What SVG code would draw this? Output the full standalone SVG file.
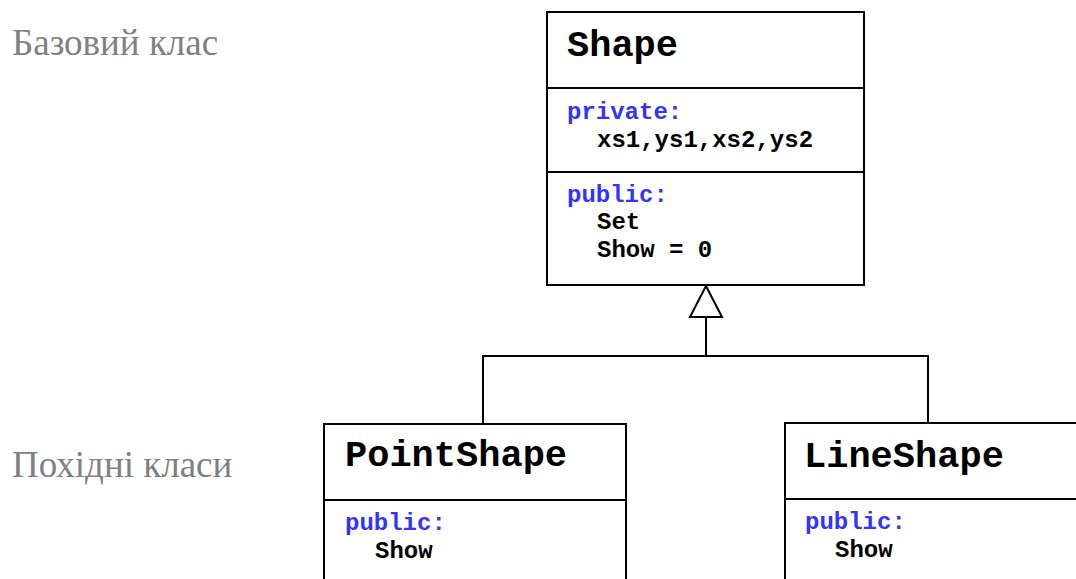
<svg xmlns="http://www.w3.org/2000/svg" width="1076" height="579" viewBox="0 0 1076 579">
  <style>
    .box { fill: #ffffff; stroke: #000000; stroke-width: 2; }
    .div { stroke: #000000; stroke-width: 2; }
    .title { font-family: "Liberation Mono", "Courier New", monospace; font-weight: bold; font-size: 37px; fill: #000000; }
    .kw { font-family: "Liberation Mono", "Courier New", monospace; font-weight: bold; font-size: 24px; fill: #3333FF; }
    .mem { font-family: "Liberation Mono", "Courier New", monospace; font-weight: bold; font-size: 24px; fill: #000000; }
    .label { font-family: "Liberation Serif", "Times New Roman", serif; font-size: 37px; fill: #808080; }
    .conn { fill: none; stroke: #000000; stroke-width: 2; }
  </style>
  <rect width="1076" height="579" fill="#ffffff"/>

  <g id="labels">
    <text class="label" x="12" y="55">Базовий клас</text>
    <text class="label" x="12" y="477">Похідні класи</text>
  </g>

  <g id="connectors">
    <polyline class="conn" points="483,424 483,356 928,356 928,423"/>
    <line class="conn" x1="706" y1="356" x2="706" y2="317"/>
    <polygon class="conn" points="706,286 690,317 722,317" style="fill:#ffffff"/>
  </g>

  <g id="Shape">
    <rect class="box" x="547" y="12" width="317" height="273"/>
    <line class="div" x1="547" y1="88" x2="864" y2="88"/>
    <line class="div" x1="547" y1="172" x2="864" y2="172"/>
    <text class="title" x="567" y="56">Shape</text>
    <text class="kw" x="567" y="119">private:</text>
    <text class="mem" x="597" y="147">xs1,ys1,xs2,ys2</text>
    <text class="kw" x="567" y="202">public:</text>
    <text class="mem" x="597" y="229">Set</text>
    <text class="mem" x="597" y="257">Show = 0</text>
  </g>

  <g id="PointShape">
    <rect class="box" x="324" y="424" width="302" height="170"/>
    <line class="div" x1="324" y1="500" x2="626" y2="500"/>
    <text class="title" x="345" y="466">PointShape</text>
    <text class="kw" x="345" y="530">public:</text>
    <text class="mem" x="375" y="558">Show</text>
  </g>

  <g id="LineShape">
    <rect class="box" x="785" y="423" width="310" height="170"/>
    <line class="div" x1="785" y1="499" x2="1095" y2="499"/>
    <text class="title" x="804" y="467">LineShape</text>
    <text class="kw" x="805" y="529">public:</text>
    <text class="mem" x="835" y="557">Show</text>
  </g>
</svg>
